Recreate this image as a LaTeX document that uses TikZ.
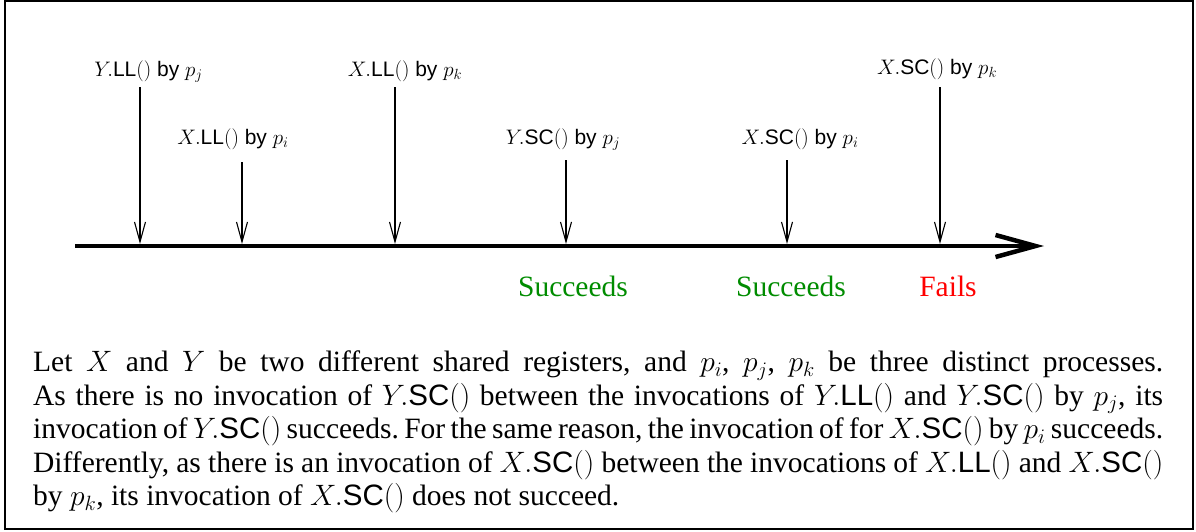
\RequirePackage{fix-cm}
\documentclass[tikz,border=0pt]{standalone}
\usepackage{fontspec}
\setmainfont{Liberation Serif}
\setsansfont{Liberation Sans}
\usetikzlibrary{arrows.meta}
\definecolor{okgreen}{rgb}{0,0.55,0}
\frenchspacing
\begin{document}
\begin{tikzpicture}[x=1pt,y=-1pt,
  lbl/.style={font=\fontsize{21}{24}\sffamily, inner sep=0, anchor=base},
  res/.style={font=\fontsize{29.5}{33}\selectfont, inner sep=0, anchor=base},
  ev/.style={line width=1.1pt, -{Straight Barb[length=20pt,width=11pt]}},
  timeaxis/.style={line width=4.5pt, -{Straight Barb[length=40pt,width=22pt]}},
]
\useasboundingbox (0,0) rectangle (1196,531);
\draw[line width=2pt] (4.5,1) rectangle (1192.5,529);
% time axis
\coordinate (a0) at (75,246);
\coordinate (a1) at (1044,246);
\draw[timeaxis] (a0) -- (a1);
% events
\node[lbl] (l1) at (148.5,76) {$Y.\mathsf{LL}()$ by $p_j$};
\node[lbl] (l2) at (233,144) {$X.\mathsf{LL}()$ by $p_i$};
\node[lbl] (l3) at (405,76) {$X.\mathsf{LL}()$ by $p_k$};
\node[lbl] (l4) at (563,144) {$Y.\mathsf{SC}()$ by $p_j$};
\node[lbl] (l5) at (800,144) {$X.\mathsf{SC}()$ by $p_i$};
\node[lbl] (l6) at (937,74) {$X.\mathsf{SC}()$ by $p_k$};
\coordinate (t1) at (140,87);  \coordinate (b1) at (140,244);
\coordinate (t2) at (242,162); \coordinate (b2) at (242,244);
\coordinate (t3) at (395,87);  \coordinate (b3) at (395,244);
\coordinate (t4) at (566,160); \coordinate (b4) at (566,244);
\coordinate (t5) at (787,160); \coordinate (b5) at (787,244);
\coordinate (t6) at (940,87);  \coordinate (b6) at (940,244);
\foreach \i in {1,...,6} \draw[ev] (t\i) -- (b\i);
% results
\node[res,text=okgreen] (r1) at (573,296) {Succeeds};
\node[res,text=okgreen] (r2) at (791,296) {Succeeds};
\node[res,text=red] (r3) at (948,296) {Fails};
% caption
\node[inner sep=0, anchor=north west, text width=1130pt, align=justify,
      font=\fontsize{29.5}{33.5}\selectfont] (cap) at (33,351) {%
Let $X$ and $Y$ be two different shared registers, and $p_i$, $p_j$, $p_k$ be three distinct processes.\linebreak
As there is no invocation of $Y.\mathsf{SC}()$ between the invocations of $Y.\mathsf{LL}()$ and $Y.\mathsf{SC}()$ by $p_j$, its\linebreak
invocation of $Y.\mathsf{SC}()$ succeeds. For the same reason, the invocation of for $X.\mathsf{SC}()$ by $p_i$ succeeds.\linebreak
Differently, as there is an invocation of $X.\mathsf{SC}()$ between the invocations of $X.\mathsf{LL}()$ and $X.\mathsf{SC}()$\linebreak
by $p_k$, its invocation of $X.\mathsf{SC}()$ does not succeed.};
\end{tikzpicture}
\end{document}
